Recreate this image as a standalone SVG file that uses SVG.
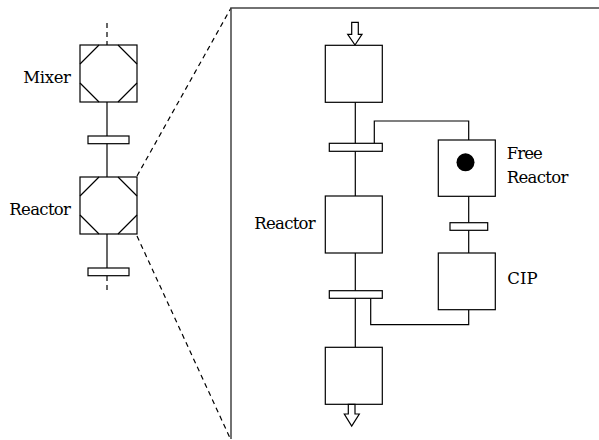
<svg xmlns="http://www.w3.org/2000/svg" width="599" height="440" viewBox="0 0 599 440">
<style>
.box{fill:#fff;stroke:#000;stroke-width:1.2}
.bar{fill:#fff;stroke:#000;stroke-width:1.2}
.ln{fill:none;stroke:#000;stroke-width:1.2}
.dash{fill:none;stroke:#000;stroke-width:1.2;stroke-dasharray:5,4}
.frame{fill:none;stroke:#444;stroke-width:1.5}
.arrow{fill:#fff;stroke:#000;stroke-width:1.2;stroke-linejoin:miter}
text{font-family:"DejaVu Serif","Liberation Serif",serif;font-size:16.5px;fill:#000}
</style>
<rect width="599" height="440" fill="#fff"/>
<g id="connectors">
<line class="dash" x1="107" y1="23" x2="107" y2="45"/>
<line class="ln" x1="107" y1="102" x2="107" y2="177"/>
<line class="ln" x1="107" y1="234" x2="107" y2="268"/>
<line class="dash" x1="107" y1="276" x2="107" y2="292"/>
<line class="dash" x1="137" y1="176" x2="231" y2="8"/>
<line class="dash" x1="137" y1="236" x2="230" y2="438"/>
<line class="ln" x1="355.3" y1="102" x2="355.3" y2="347"/>
<polyline class="ln" points="374.3,143.5 374.3,121 468.7,121 468.7,140"/>
<line class="ln" x1="468.7" y1="196" x2="468.7" y2="253"/>
<polyline class="ln" points="370.7,298.3 370.7,324.7 468.7,324.7 468.7,310"/>
</g>
<g id="frame">
<polyline class="frame" points="231,439 231,8 599,8"/>
</g>
<g id="mixer">
<rect class="box" x="80" y="45" width="57" height="57"/>
<path class="ln" d="M80,64 L99,45 M118,45 L137,64 M80,83 L99,102 M118,102 L137,83"/>
<text x="71" y="82.7" text-anchor="end" textLength="47.7">Mixer</text>
</g>
<g id="bar1"><rect class="bar" x="88" y="136" width="41" height="7.7"/></g>
<g id="reactor-left">
<rect class="box" x="80" y="177" width="57" height="57"/>
<path class="ln" d="M80,196 L99,177 M118,177 L137,196 M80,215 L99,234 M118,234 L137,215"/>
<text x="71" y="215" text-anchor="end" textLength="61.7">Reactor</text>
</g>
<g id="bar2"><rect class="bar" x="88" y="268" width="41" height="7.7"/></g>
<g id="top-box">
<path class="arrow" d="M351.7,22.3 H358.3 V34.3 H362 L355,45 L347.7,34.3 H351.7 Z"/>
<rect class="box" x="325.3" y="45.3" width="57" height="57"/>
</g>
<g id="bar-top"><rect class="bar" x="329.3" y="143.3" width="53" height="8"/></g>
<g id="reactor-mid">
<rect class="box" x="325.3" y="196" width="57" height="57"/>
<text x="254.3" y="229.3" textLength="61.4">Reactor</text>
</g>
<g id="bar-mid"><rect class="bar" x="329.3" y="290.7" width="53" height="7.6"/></g>
<g id="bottom-box">
<rect class="box" x="325.3" y="347.3" width="57" height="57"/>
<path class="arrow" d="M348.3,404.3 H355 V414 H359.3 L351.7,426 L344.3,414 H348.3 Z"/>
</g>
<g id="free-reactor">
<rect class="box" x="438.3" y="140" width="57" height="56.3"/>
<circle cx="465.5" cy="162.3" r="9" fill="#000"/>
<text x="506.7" y="159.3" textLength="36">Free</text>
<text x="506.7" y="183.3" textLength="61.6">Reactor</text>
</g>
<g id="bar-free"><rect class="bar" x="450" y="222.7" width="37.7" height="7.6"/></g>
<g id="cip">
<rect class="box" x="438.3" y="253" width="57" height="56.7"/>
<text x="507.3" y="284">CIP</text>
</g>
</svg>
